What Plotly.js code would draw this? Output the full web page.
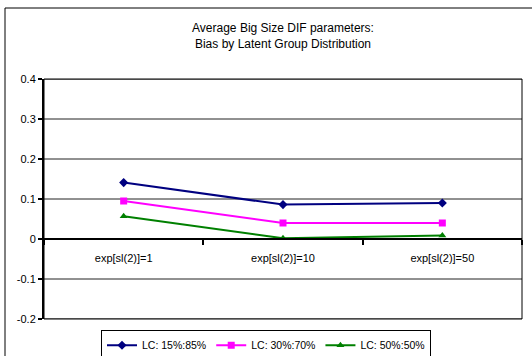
<!DOCTYPE html>
<html>
<head>
<meta charset="utf-8">
<script src="https://cdn.plot.ly/plotly-3.0.1.min.js"></script>
<style>html,body{margin:0;padding:0;background:#fff;}#chart{width:532px;height:356px;}</style>
</head>
<body>
<div id="chart"></div>
<script>
// Categories and bias values per latent class split
const categories = ['exp[sl(2)]=1', 'exp[sl(2)]=10', 'exp[sl(2)]=50'];
const lc15_85 = [0.141, 0.086, 0.090];
const lc30_70 = [0.095, 0.040, 0.040];
const lc50_50 = [0.057, 0.002, 0.009];
const seriesNames = ['LC: 15%:85%', 'LC: 30%:70%', 'LC: 50%:50%'];
const yTicks = [-0.2, -0.1, 0, 0.1, 0.2, 0.3, 0.4];
const yRange = [-0.2, 0.4];
const xRange = [-0.5, 2.5];

const font = {family: 'Liberation Sans, Arial, sans-serif', size: 11, color: '#000'};

// category positions on the linear plotting axis
const xPos = categories.map((c, i) => i);

// horizontal gridlines at every y tick, across the whole x range
const gridX = [], gridY = [];
yTicks.forEach(v => { gridX.push(xRange[0], xRange[1], null); gridY.push(v, v, null); });

const traces = [
  {x: gridX, y: gridY, type: 'scatter', mode: 'lines', cliponaxis: false,
   line: {color: '#222', width: 1}, showlegend: false, hoverinfo: 'skip'},
  {x: xPos, y: lc15_85, name: seriesNames[0], type: 'scatter', mode: 'lines+markers',
   line: {color: '#000080', width: 2}, marker: {symbol: 'diamond', size: 7, color: '#000080'}},
  {x: xPos, y: lc30_70, name: seriesNames[1], type: 'scatter', mode: 'lines+markers',
   line: {color: '#FF00FF', width: 2}, marker: {symbol: 'square', size: 7, color: '#FF00FF'}},
  {x: xPos, y: lc50_50, name: seriesNames[2], type: 'scatter', mode: 'lines+markers',
   line: {color: '#008000', width: 2}, marker: {symbol: 'triangle-up', size: 7, color: '#008000'}},
  // empty trace that gives the category axis crossing at zero its labels
  {x: categories, y: [null, null, null], xaxis: 'x2', yaxis: 'y', type: 'scatter', mode: 'lines',
   showlegend: false, hoverinfo: 'skip'}
];

const layout = {
  width: 532, height: 356,
  margin: {l: 44, r: 10, t: 79, b: 37, pad: 0},
  paper_bgcolor: '#fff', plot_bgcolor: '#fff',
  font: font,
  showlegend: true,
  title: {
    text: 'Average Big Size DIF parameters:<br>Bias by Latent Group Distribution',
    font: {family: font.family, size: 12, color: '#000'},
    x: 0.5, xref: 'paper', xanchor: 'center', y: 0.91, yanchor: 'middle'
  },
  xaxis: {
    type: 'linear', range: xRange,
    showline: false, ticks: '', showticklabels: false, showgrid: false, zeroline: false, fixedrange: true
  },
  xaxis2: {
    type: 'category', range: xRange, overlaying: 'x',
    anchor: 'free', position: 1/3, side: 'bottom',
    showline: true, linecolor: '#000', linewidth: 2,
    ticks: 'outside', tickson: 'boundaries', ticklen: 5, tickcolor: '#000', tickwidth: 2,
    showgrid: false, zeroline: false, fixedrange: true,
    tickfont: font, ticklabelstandoff: 9
  },
  yaxis: {
    range: yRange, tickvals: yTicks, ticktext: yTicks.map(v => v === 0 ? '0' : String(v)),
    showline: true, linecolor: '#000', linewidth: 2, mirror: false,
    ticks: 'outside', ticklen: 4, tickcolor: '#000', tickwidth: 2,
    showgrid: false, zeroline: false, tickfont: font, fixedrange: true
  },
  legend: {
    orientation: 'h', x: 0.5, xanchor: 'center', xref: 'container',
    y: 0.03, yanchor: 'middle', yref: 'container',
    bordercolor: '#000', borderwidth: 1, bgcolor: '#fff',
    font: {family: font.family, size: 10.5, color: '#000'},
    itemwidth: 30, tracegroupgap: 0, itemclick: false
  },
  shapes: [
    // plot frame
    {type: 'rect', xref: 'paper', yref: 'paper', x0: 0, x1: 1, y0: 0, y1: 1,
     line: {color: '#000', width: 1}, fillcolor: 'rgba(0,0,0,0)', layer: 'above'},
    // outer chart border
    {type: 'rect', xref: 'paper', yref: 'paper', x0: -39/478, x1: 1.05, y0: -0.3, y1: 1 + 71/240,
     line: {color: '#000', width: 1}, fillcolor: 'rgba(0,0,0,0)', layer: 'above'}
  ]
};

Plotly.newPlot('chart', traces, layout, {staticPlot: true, displayModeBar: false});
</script>
</body>
</html>
